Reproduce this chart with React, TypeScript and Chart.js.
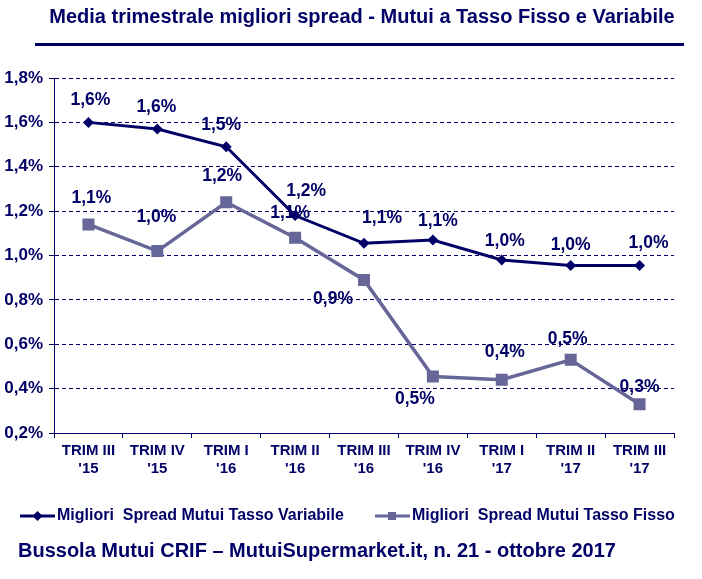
import React, { useEffect, useRef } from "react";
import { Chart, registerables } from "chart.js";

Chart.register(...registerables);

// ---- Data ----
const quarterLabels = ["TRIM III", "TRIM IV", "TRIM I", "TRIM II", "TRIM III", "TRIM IV", "TRIM I", "TRIM II", "TRIM III"];
const yearLabels = ["'15", "'15", "'16", "'16", "'16", "'16", "'17", "'17", "'17"];
const variabileValues = [1.6, 1.57, 1.49, 1.18, 1.055, 1.07, 0.98, 0.955, 0.955];
const fissoValues = [1.14, 1.02, 1.24, 1.08, 0.89, 0.455, 0.44, 0.53, 0.33];
const seriesNames = ["Migliori  Spread Mutui Tasso Variabile", "Migliori  Spread Mutui Tasso Fisso"];
const yMin = 0.2;
const yMax = 1.8;
const yStep = 0.2;
const titleText = "Media trimestrale migliori spread - Mutui a Tasso Fisso e Variabile";
const footerText = "Bussola Mutui CRIF \u2013 MutuiSupermarket.it, n. 21 - ottobre 2017";

// ---- Styles ----
const NAVY = "#000066";
const SLATE = "#666699";
const FONT = "'Liberation Sans', Arial, sans-serif";
// label offsets (dx, dy) relative to each point
const variabileLabelOffsets = [[2, -22], [-1, -22], [-5, -22], [11, -24], [18, -25], [5, -19], [3, -19], [0, -20], [9, -22]];
const fissoLabelOffsets = [[3, -26], [-1, -34], [-4, -26], [-5, -25], [-31, 19], [-18, 23], [3, -28], [-3, -21], [0, -17]];

const fmt = (v: number) => (Math.round(v * 10) / 10).toFixed(1).replace(".", ",") + "%";

const overlayPlugin = {
  id: "overlay",
  beforeDraw(chart: any) {
    const ctx = chart.ctx;
    ctx.save();
    ctx.fillStyle = "#ffffff";
    ctx.fillRect(0, 0, chart.width, chart.height);
    ctx.restore();
  },
  afterDatasetsDraw(chart: any) {
    const ctx = chart.ctx;
    ctx.save();
    ctx.font = `bold 17.5px ${FONT}`;
    ctx.fillStyle = NAVY;
    ctx.textAlign = "center";
    ctx.textBaseline = "middle";
    const offsets = [variabileLabelOffsets, fissoLabelOffsets];
    chart.data.datasets.forEach((ds: any, di: number) => {
      const meta = chart.getDatasetMeta(di);
      meta.data.forEach((pt: any, i: number) => {
        const [dx, dy] = offsets[di][i];
        ctx.fillText(fmt(ds.data[i]), pt.x + dx, pt.y + dy);
      });
    });
    ctx.restore();
  },
  afterDraw(chart: any) {
    const ctx = chart.ctx;
    ctx.save();
    // title
    ctx.fillStyle = NAVY;
    ctx.font = `bold 20px ${FONT}`;
    ctx.textAlign = "center";
    ctx.textBaseline = "middle";
    ctx.fillText(titleText, 362, 17);
    // rule
    ctx.fillRect(35, 43, 649, 3);

    // legend
    ctx.textAlign = "left";
    ctx.font = `bold 16px ${FONT}`;
    const ly = 516;
    // item 1
    ctx.strokeStyle = NAVY;
    ctx.lineWidth = 3;
    ctx.beginPath();
    ctx.moveTo(20, ly);
    ctx.lineTo(55, ly);
    ctx.stroke();
    ctx.fillStyle = NAVY;
    ctx.beginPath();
    ctx.moveTo(37.5, ly - 5);
    ctx.lineTo(42.5, ly);
    ctx.lineTo(37.5, ly + 5);
    ctx.lineTo(32.5, ly);
    ctx.closePath();
    ctx.fill();
    ctx.fillText(seriesNames[0], 57, ly);
    // item 2
    ctx.strokeStyle = SLATE;
    ctx.beginPath();
    ctx.moveTo(375, ly);
    ctx.lineTo(410, ly);
    ctx.stroke();
    ctx.fillStyle = SLATE;
    ctx.fillRect(388, ly - 4, 8, 8);
    ctx.fillStyle = NAVY;
    ctx.fillText(seriesNames[1], 412, ly);

    // footer
    ctx.font = `bold 20px ${FONT}`;
    ctx.fillText(footerText, 18, 551);
    ctx.restore();
  },
};

export default function App() {
  const canvasRef = useRef<HTMLCanvasElement | null>(null);

  useEffect(() => {
    const canvas = canvasRef.current;
    if (!canvas) return;
    const labels = quarterLabels.map((q, i) => [q, yearLabels[i]]);
    const chart = new Chart(canvas, {
      type: "line",
      data: {
        labels,
        datasets: [
          {
            label: seriesNames[0],
            data: variabileValues,
            borderColor: NAVY,
            backgroundColor: NAVY,
            borderWidth: 3,
            pointStyle: "rectRot",
            pointRadius: 5.5,
            pointHoverRadius: 5.5,
            pointBorderWidth: 0,
            tension: 0,
          },
          {
            label: seriesNames[1],
            data: fissoValues,
            borderColor: SLATE,
            backgroundColor: SLATE,
            borderWidth: 3.5,
            pointStyle: "rect",
            pointRadius: 8.5,
            pointHoverRadius: 8.5,
            pointBorderWidth: 0,
            tension: 0,
          },
        ],
      },
      options: {
        responsive: false,
        animation: false,
        devicePixelRatio: 1,
        layout: { padding: { top: 78, left: 0, right: 28, bottom: 96 } },
        plugins: {
          legend: { display: false },
          title: { display: false },
          tooltip: { enabled: false },
        },
        scales: {
          x: {
            offset: true,
            afterFit: (scale: any) => {
              scale.height = 50;
            },
            grid: {
              offset: true,
              drawOnChartArea: false,
              drawTicks: true,
              tickLength: 5,
              color: NAVY,
              lineWidth: 1,
            },
            border: { display: true, color: NAVY, width: 1 },
            ticks: {
              color: NAVY,
              font: { family: FONT, size: 15, weight: "bold", lineHeight: 1.25 },
              padding: 3,
              maxRotation: 0,
              autoSkip: false,
            },
          },
          y: {
            min: yMin,
            max: yMax,
            afterFit: (scale: any) => {
              scale.width = 54;
            },
            grid: {
              color: NAVY,
              lineWidth: 1,
              drawTicks: true,
              tickLength: 5,
              tickColor: NAVY,
            },
            border: { display: true, color: NAVY, width: 1, dash: [4, 3] },
            ticks: {
              stepSize: yStep,
              color: NAVY,
              padding: 6,
              font: { family: FONT, size: 17, weight: "bold" },
              callback: (v: any) => Number(v).toFixed(1).replace(".", ",") + "%",
            },
          },
        },
      },
      plugins: [overlayPlugin],
    } as any);
    return () => chart.destroy();
  }, []);

  return (
    <div style={{ position: "absolute", left: 0, top: 0, width: 702, height: 579, background: "#fff" }}>
      <canvas ref={canvasRef} width={702} height={579} style={{ display: "block" }} />
    </div>
  );
}
